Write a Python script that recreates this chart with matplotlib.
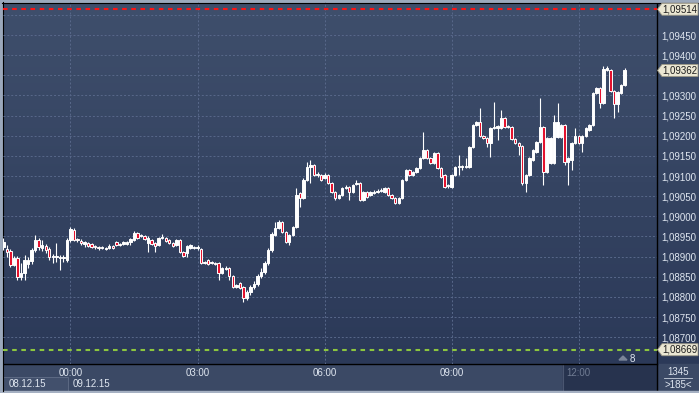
import numpy as np
import pandas as pd
import matplotlib
matplotlib.use("Agg")
import matplotlib.pyplot as plt
from matplotlib.patches import Rectangle, Polygon

plt.rcParams["font.family"] = ["Liberation Sans", "DejaVu Sans"]

W, H = 699, 393

# 5-minute candles, 08.12.15 22:25 .. 09.12.15 13:05
start_time = "2015-12-08 22:25"

opens = [
    1.08924, 1.08919, 1.08915, 1.08880, 1.08897, 1.08850, 1.08860, 1.08882, 1.08890, 1.08917,
    1.08942, 1.08922, 1.08927, 1.08919, 1.08900, 1.08900, 1.08897, 1.08897, 1.08892, 1.08942,
    1.08967, 1.08944, 1.08939, 1.08932, 1.08934, 1.08932, 1.08927, 1.08924, 1.08922, 1.08919,
    1.08922, 1.08927, 1.08937, 1.08929, 1.08932, 1.08932, 1.08937, 1.08942, 1.08959, 1.08952,
    1.08952, 1.08934, 1.08942, 1.08934, 1.08929, 1.08947, 1.08947, 1.08942, 1.08934, 1.08929,
    1.08942, 1.08912, 1.08910, 1.08922, 1.08922, 1.08922, 1.08919, 1.08885, 1.08892, 1.08885,
    1.08885, 1.08885, 1.08860, 1.08870, 1.08872, 1.08853, 1.08825, 1.08835, 1.08825, 1.08798,
    1.08813, 1.08825, 1.08833, 1.08853, 1.08862, 1.08885, 1.08917, 1.08954, 1.08972, 1.08986,
    1.08962, 1.08937, 1.08954, 1.08974, 1.09058, 1.09046, 1.09091, 1.09123, 1.09128, 1.09103,
    1.09103, 1.09096, 1.09103, 1.09083, 1.09061, 1.09046, 1.09053, 1.09071, 1.09073, 1.09061,
    1.09081, 1.09083, 1.09041, 1.09061, 1.09053, 1.09058, 1.09061, 1.09063, 1.09061, 1.09071,
    1.09053, 1.09046, 1.09034, 1.09046, 1.09091, 1.09115, 1.09103, 1.09110, 1.09120, 1.09145,
    1.09165, 1.09145, 1.09133, 1.09158, 1.09120, 1.09103, 1.09076, 1.09073, 1.09103, 1.09123,
    1.09123, 1.09123, 1.09123, 1.09172, 1.09227, 1.09234, 1.09200, 1.09195, 1.09182, 1.09220,
    1.09220, 1.09220, 1.09244, 1.09222, 1.09222, 1.09192, 1.09182, 1.09175, 1.09083, 1.09103,
    1.09140, 1.09160, 1.09185, 1.09222, 1.09110, 1.09133, 1.09133, 1.09197, 1.09197, 1.09227,
    1.09135, 1.09140, 1.09182, 1.09200, 1.09182, 1.09200, 1.09215, 1.09227, 1.09306, 1.09319,
    1.09282, 1.09363, 1.09363, 1.09311, 1.09279, 1.09306, 1.09326,
]
closes = [
    1.08937, 1.08912, 1.08880, 1.08897, 1.08850, 1.08860, 1.08892, 1.08892, 1.08917, 1.08942,
    1.08924, 1.08929, 1.08917, 1.08900, 1.08902, 1.08902, 1.08900, 1.08900, 1.08942, 1.08969,
    1.08942, 1.08942, 1.08934, 1.08937, 1.08927, 1.08924, 1.08924, 1.08922, 1.08924, 1.08922,
    1.08927, 1.08922, 1.08929, 1.08932, 1.08937, 1.08937, 1.08944, 1.08959, 1.08947, 1.08954,
    1.08944, 1.08947, 1.08932, 1.08927, 1.08947, 1.08949, 1.08939, 1.08934, 1.08927, 1.08942,
    1.08912, 1.08902, 1.08927, 1.08929, 1.08924, 1.08924, 1.08885, 1.08887, 1.08882, 1.08887,
    1.08882, 1.08860, 1.08872, 1.08872, 1.08853, 1.08825, 1.08830, 1.08823, 1.08798, 1.08813,
    1.08825, 1.08833, 1.08853, 1.08862, 1.08885, 1.08917, 1.08957, 1.08972, 1.08986, 1.08962,
    1.08937, 1.08954, 1.08974, 1.09053, 1.09046, 1.09091, 1.09123, 1.09128, 1.09103, 1.09105,
    1.09091, 1.09103, 1.09083, 1.09061, 1.09046, 1.09053, 1.09071, 1.09073, 1.09061, 1.09078,
    1.09083, 1.09041, 1.09061, 1.09048, 1.09061, 1.09061, 1.09063, 1.09066, 1.09071, 1.09053,
    1.09046, 1.09034, 1.09046, 1.09091, 1.09115, 1.09103, 1.09110, 1.09120, 1.09145, 1.09165,
    1.09145, 1.09133, 1.09158, 1.09120, 1.09098, 1.09073, 1.09078, 1.09103, 1.09123, 1.09125,
    1.09125, 1.09125, 1.09172, 1.09227, 1.09234, 1.09200, 1.09195, 1.09182, 1.09220, 1.09222,
    1.09225, 1.09244, 1.09222, 1.09225, 1.09192, 1.09182, 1.09175, 1.09083, 1.09103, 1.09145,
    1.09165, 1.09185, 1.09222, 1.09110, 1.09195, 1.09195, 1.09234, 1.09234, 1.09227, 1.09135,
    1.09145, 1.09182, 1.09200, 1.09182, 1.09200, 1.09220, 1.09227, 1.09306, 1.09319, 1.09282,
    1.09366, 1.09368, 1.09311, 1.09279, 1.09309, 1.09326, 1.09362,
]
highs = [
    1.08947, 1.08929, 1.08919, 1.08902, 1.08902, 1.08885, 1.08905, 1.08900, 1.08922, 1.08954,
    1.08947, 1.08942, 1.08932, 1.08924, 1.08907, 1.08934, 1.08905, 1.08905, 1.08947, 1.08974,
    1.08972, 1.08947, 1.08944, 1.08939, 1.08937, 1.08934, 1.08929, 1.08927, 1.08927, 1.08924,
    1.08932, 1.08929, 1.08939, 1.08934, 1.08939, 1.08939, 1.08947, 1.08964, 1.08962, 1.08957,
    1.08954, 1.08952, 1.08944, 1.08937, 1.08949, 1.08957, 1.08949, 1.08944, 1.08937, 1.08944,
    1.08944, 1.08915, 1.08929, 1.08932, 1.08927, 1.08929, 1.08922, 1.08890, 1.08895, 1.08890,
    1.08887, 1.08887, 1.08875, 1.08877, 1.08875, 1.08855, 1.08833, 1.08838, 1.08828, 1.08818,
    1.08830, 1.08840, 1.08857, 1.08872, 1.08890, 1.08922, 1.08962, 1.08986, 1.08991, 1.08989,
    1.08964, 1.08957, 1.08977, 1.09071, 1.09061, 1.09096, 1.09135, 1.09140, 1.09130, 1.09110,
    1.09105, 1.09108, 1.09105, 1.09086, 1.09063, 1.09056, 1.09073, 1.09078, 1.09076, 1.09081,
    1.09091, 1.09086, 1.09063, 1.09063, 1.09063, 1.09066, 1.09068, 1.09071, 1.09073, 1.09073,
    1.09056, 1.09048, 1.09048, 1.09093, 1.09118, 1.09118, 1.09113, 1.09123, 1.09148, 1.09210,
    1.09167, 1.09148, 1.09160, 1.09160, 1.09123, 1.09105, 1.09081, 1.09105, 1.09125, 1.09153,
    1.09128, 1.09145, 1.09175, 1.09229, 1.09237, 1.09269, 1.09202, 1.09197, 1.09222, 1.09284,
    1.09227, 1.09264, 1.09247, 1.09227, 1.09225, 1.09195, 1.09185, 1.09177, 1.09105, 1.09148,
    1.09167, 1.09187, 1.09294, 1.09225, 1.09197, 1.09197, 1.09252, 1.09282, 1.09229, 1.09229,
    1.09148, 1.09185, 1.09220, 1.09202, 1.09202, 1.09222, 1.09229, 1.09309, 1.09321, 1.09321,
    1.09373, 1.09373, 1.09366, 1.09314, 1.09311, 1.09329, 1.09368,
]
lows = [
    1.08917, 1.08900, 1.08875, 1.08877, 1.08843, 1.08843, 1.08843, 1.08872, 1.08882, 1.08912,
    1.08917, 1.08915, 1.08910, 1.08892, 1.08885, 1.08887, 1.08867, 1.08887, 1.08887, 1.08937,
    1.08939, 1.08937, 1.08929, 1.08924, 1.08924, 1.08922, 1.08919, 1.08917, 1.08919, 1.08917,
    1.08919, 1.08919, 1.08927, 1.08927, 1.08929, 1.08929, 1.08929, 1.08939, 1.08944, 1.08949,
    1.08942, 1.08912, 1.08929, 1.08912, 1.08927, 1.08944, 1.08937, 1.08932, 1.08924, 1.08927,
    1.08910, 1.08900, 1.08900, 1.08919, 1.08919, 1.08917, 1.08882, 1.08882, 1.08880, 1.08882,
    1.08880, 1.08843, 1.08857, 1.08867, 1.08843, 1.08823, 1.08823, 1.08820, 1.08788, 1.08793,
    1.08805, 1.08820, 1.08828, 1.08848, 1.08857, 1.08880, 1.08912, 1.08952, 1.08969, 1.08959,
    1.08934, 1.08929, 1.08952, 1.08972, 1.09024, 1.09043, 1.09088, 1.09083, 1.09101, 1.09098,
    1.09088, 1.09093, 1.09081, 1.09058, 1.09041, 1.09043, 1.09051, 1.09068, 1.09041, 1.09058,
    1.09078, 1.09039, 1.09039, 1.09046, 1.09051, 1.09056, 1.09058, 1.09061, 1.09058, 1.09051,
    1.09043, 1.09031, 1.09031, 1.09043, 1.09088, 1.09101, 1.09101, 1.09108, 1.09118, 1.09143,
    1.09143, 1.09130, 1.09130, 1.09118, 1.09096, 1.09071, 1.09071, 1.09071, 1.09101, 1.09103,
    1.09115, 1.09120, 1.09120, 1.09170, 1.09225, 1.09197, 1.09192, 1.09172, 1.09148, 1.09217,
    1.09190, 1.09217, 1.09220, 1.09220, 1.09190, 1.09180, 1.09153, 1.09078, 1.09061, 1.09101,
    1.09138, 1.09158, 1.09182, 1.09078, 1.09108, 1.09130, 1.09130, 1.09195, 1.09195, 1.09128,
    1.09078, 1.09115, 1.09180, 1.09180, 1.09160, 1.09197, 1.09212, 1.09225, 1.09304, 1.09269,
    1.09279, 1.09361, 1.09309, 1.09244, 1.09259, 1.09304, 1.09324,
]

red_level = 1.09514
green_level = 1.08669
last_price = 1.09362
price_ticks = [1.08700, 1.08750, 1.08800, 1.08850, 1.08900, 1.08950, 1.09000, 1.09050,
               1.09100, 1.09150, 1.09200, 1.09250, 1.09300, 1.09350, 1.09400, 1.09450, 1.09500]
date_labels = ["08.12.15", "09.12.15"]
shift_bars = "8"
bars_info = ["1345", ">185<"]

o = np.array(opens)
c = np.array(closes)
hi = np.array(highs)
lo = np.array(lows)
times = pd.date_range(start_time, periods=len(o), freq="5min")
x = np.arange(len(o))
tags = [red_level, last_price, green_level]

fig = plt.figure(figsize=(W / 100, H / 100), dpi=100)

# background / chrome axes in pixel coordinates
bg = fig.add_axes([0, 0, 1, 1])
bg.set_xlim(0, W)
bg.set_ylim(H, 0)
bg.axis("off")
top_col = np.array([63, 79, 108]) / 255
bot_col = np.array([43, 57, 88]) / 255
t = np.linspace(0, 1, 200)[:, None]
grad = (top_col[None, :] * (1 - t) + bot_col[None, :] * t)[:, None, :]
bg.imshow(grad, extent=(0, W, 364, 0), aspect="auto", zorder=0)
bg.add_patch(Rectangle((0, 364), W, 29, color="#3b4965", zorder=1))
bg.add_patch(Rectangle((563, 364), 94, 27, color="#27334e", zorder=1))
bg.plot([563, 563], [364, 391], color="#4a5670", lw=0.8, zorder=2)
bg.add_patch(Rectangle((3, 377), 65, 15, fc="#42506c", ec="#5c6983", lw=0.7, zorder=2))
bg.plot([0, 657], [364, 364], color="black", lw=1.0, zorder=3)
bg.plot([657, 657], [0, 391], color="black", lw=1.0, zorder=3)
bg.add_patch(Rectangle((0, 0), W, 2, color="#9ba8bb", zorder=4))
bg.add_patch(Rectangle((0, 0), 2, H, color="#9ba8bb", zorder=4))
bg.add_patch(Rectangle((0, 391), W, 2, color="#a5b0c2", zorder=4))
bg.plot([2, W], [2.5, 2.5], color="black", lw=0.8, zorder=4)
bg.plot([2.5, 2.5], [2, 391], color="black", lw=0.8, zorder=4)

txt = dict(color="#dfe6f0", fontsize=7, zorder=5)
bg.text(9, 384, date_labels[0], ha="left", va="center", **txt)
bg.text(73, 384, date_labels[1], ha="left", va="center", **txt)
bg.text(678, 372, bars_info[0], ha="center", va="center", **txt)
bg.plot([664, 692], [378, 378], color="#c8d0dc", lw=0.6, zorder=5)
bg.text(678, 384.5, bars_info[1], ha="center", va="center", **txt)
bg.text(632, 358.5, shift_bars, ha="center", va="center", **txt)
bg.add_patch(Polygon([[619, 360], [623, 356], [627, 360]], color="#7a8498", zorder=5))

# main price axes
ax = fig.add_axes([3 / W, (H - 364) / H, 654 / W, 362 / H])
ax.patch.set_alpha(0)
ax.set_xlim(-0.1, -0.1 + 654 / 3.53)
ax.set_ylim(1.086336, 1.095319)
for s in ax.spines.values():
    s.set_visible(False)

grid_kw = dict(color="#58688a", lw=0.7, dashes=(2, 2), zorder=1)
for p in price_ticks:
    ax.axhline(p, **grid_kw)

tick_idx = [i for i, tm in enumerate(times) if tm.minute == 0 and tm.hour % 3 == 0]
for i in tick_idx:
    ax.axvline(i, **grid_kw)


def price_label(p):
    # labels hidden behind a price tag are left blank
    if any(abs(p - tg) < 0.00016 for tg in tags):
        return ""
    return f"{p:.5f}".replace(".", ",")


ax.yaxis.tick_right()
ax.set_yticks(price_ticks)
ax.set_yticklabels([price_label(p) for p in price_ticks])
ax.tick_params(axis="y", length=0, pad=3, labelsize=7, labelcolor="#dfe6f0")
ax.set_xticks(tick_idx)
ax.set_xticklabels([times[i].strftime("%H:%M") for i in tick_idx])
ax.tick_params(axis="x", length=0, pad=3.2, labelsize=7, labelcolor="#dfe6f0")
ax.get_xticklabels()[-1].set_color("#6f7b92")

# candles
ax.vlines(x, lo, hi, color="white", lw=0.8, zorder=3)
bull = c >= o
body = np.maximum(np.abs(c - o), 0.000004)
ax.bar(x, body, bottom=np.minimum(o, c), width=0.68,
       color=np.where(bull, "white", "#e4122e"), edgecolor="white", linewidth=0.7, zorder=4)

ax.axhline(red_level, color="#ff1414", lw=1.5, dashes=(2.2, 2.2), zorder=5)
ax.axhline(green_level, color="#8cc63f", lw=1.5, dashes=(2.2, 2.2), zorder=5)

# price tags on the scale
to_bg = bg.transData.inverted()
for level in tags:
    yc = to_bg.transform(ax.transData.transform((0, level)))[1]
    bg.add_patch(Polygon([[657.5, yc], [662, yc - 6], [698, yc - 6], [698, yc + 6], [662, yc + 6]],
                         fc="#ebe7d3", ec="#9c9886", lw=0.6, zorder=6))
    bg.text(680, yc, f"{level:.5f}".replace(".", ","), ha="center", va="center",
            color="#1c1c1c", fontsize=7, zorder=7)

fig.savefig("out.png", dpi=100)
